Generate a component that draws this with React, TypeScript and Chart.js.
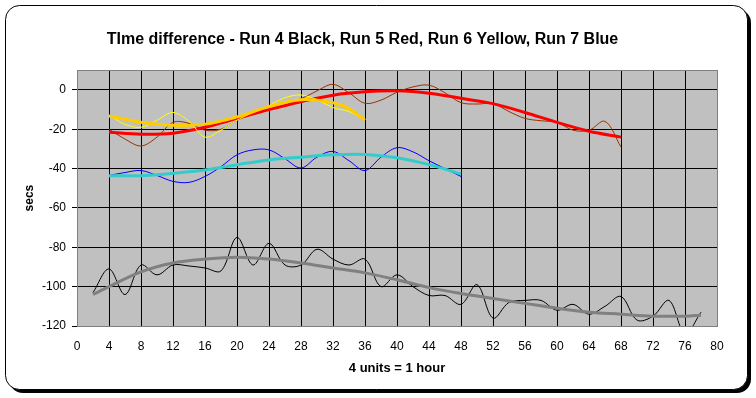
import React, { useEffect, useRef } from "react";
import { Chart, registerables } from "chart.js";

Chart.register(...registerables);

const titleText = "TIme difference - Run 4 Black, Run 5 Red, Run 6 Yellow, Run 7 Blue";
const xAxisTitle = "4 units = 1 hour";
const yAxisTitle = "secs";

// Run 4 (black data, grey trend)
const run4X = [2, 4, 6, 8, 10, 12, 14, 16, 18, 20, 22, 24, 26, 28, 30, 32, 34, 36, 38, 40, 42, 44, 46, 48, 50, 52, 54, 56, 58, 60, 62, 64, 66, 68, 70, 72, 74, 76, 78];
const run4Y = [-103, -91, -104, -89, -94, -89, -89.5, -90.5, -92, -75, -89, -78, -89, -89, -81, -86, -89, -86, -100, -94, -100, -104.5, -104.5, -109, -99, -116, -108, -107, -107, -112, -109, -114, -110, -105, -117, -115, -107, -124, -113];
const run4TrendX = [2, 4, 8, 12, 16, 20, 24, 28, 32, 36, 40, 44, 48, 52, 56, 60, 64, 68, 72, 76, 78];
const run4TrendY = [-104, -100, -92.5, -88, -86, -85, -86, -88, -90.5, -93, -96.5, -100.5, -103.5, -106, -108.5, -111, -113, -114, -115, -115, -114.5];

// Run 5 (brown data, red trend)
const run5X = [4, 6, 8, 10, 12, 14, 16, 18, 20, 22, 24, 26, 28, 30, 32, 34, 36, 38, 40, 42, 44, 46, 48, 50, 52, 54, 56, 58, 60, 62, 64, 66, 68];
const run5Y = [-20, -25, -28.5, -24, -16.5, -17, -20.5, -20, -15.5, -12, -8.5, -6.5, -4.5, -0.5, 2.8, -1.5, -6.8, -5.2, -1.2, 1.5, 2.4, -1.5, -6.5, -7.2, -7, -11, -14.5, -15.7, -16.5, -20.5, -20.5, -16, -29];
const run5TrendX = [4, 8, 12, 16, 20, 24, 28, 32, 36, 40, 44, 48, 52, 56, 60, 64, 68];
const run5TrendY = [-21.5, -22.5, -22, -19, -14.5, -10, -6, -2.7, -1, -0.5, -1.7, -4.3, -7, -11.5, -16.5, -21, -24];

// Run 6 (yellow data, gold trend)
const run6X = [4, 6, 8, 10, 12, 14, 16, 18, 20, 22, 24, 26, 28, 30, 32, 34, 36];
const run6Y = [-12.8, -17.5, -19, -15.4, -11.5, -16, -24, -20.5, -15.4, -11.5, -8, -4, -2.6, -5, -9, -11, -15.4];
const run6TrendX = [4, 8, 12, 16, 20, 24, 28, 32, 34, 36];
const run6TrendY = [-13.3, -16.5, -18, -17.4, -13.7, -8.5, -5, -6.5, -9.5, -15.4];

// Run 7 (blue data, turquoise trend)
const run7X = [4, 6, 8, 10, 12, 14, 16, 18, 20, 22, 24, 26, 28, 30, 32, 34, 36, 38, 40, 42, 44, 46, 48];
const run7Y = [-43.5, -42, -41, -43.5, -46.5, -47, -44, -39, -33, -30.5, -30.5, -35, -39.7, -34.2, -31.3, -36, -41, -34.2, -29.4, -31.5, -36, -40, -44];
const run7TrendX = [4, 8, 12, 16, 20, 24, 28, 32, 36, 40, 44, 48];
const run7TrendY = [-43.6, -43.6, -42.4, -40.7, -38, -35.6, -34.2, -33, -32.8, -34.5, -38, -42.7];

const xMin = 0;
const xMax = 80;
const xStep = 4;
const yMin = -120;
const yMax = 10;
const yStep = 20;

const FONT = "'Liberation Sans', Arial, sans-serif";

function pts(xs: number[], ys: number[]) {
  return xs.map((x, i) => ({ x, y: ys[i] }));
}

const framePlugin = {
  id: "frame",
  beforeDraw(chart: any) {
    const ctx = chart.ctx as CanvasRenderingContext2D;
    ctx.save();
    ctx.fillStyle = "#000000";
    ctx.beginPath();
    (ctx as any).roundRect(9, 9, 742, 384, 14);
    ctx.fill();
    ctx.fillStyle = "#ffffff";
    ctx.beginPath();
    (ctx as any).roundRect(5.5, 5.5, 742, 384, 14);
    ctx.fill();
    ctx.strokeStyle = "#000000";
    ctx.lineWidth = 1;
    ctx.stroke();
    const { left, top, right, bottom } = chart.chartArea;
    ctx.fillStyle = "#C0C0C0";
    ctx.fillRect(left, top, right - left, bottom - top);
    ctx.restore();
  },
  beforeDatasetsDraw(chart: any) {
    const ctx = chart.ctx as CanvasRenderingContext2D;
    const { left, top, right, bottom } = chart.chartArea;
    ctx.save();
    ctx.strokeStyle = "#808080";
    ctx.lineWidth = 1;
    ctx.strokeRect(Math.round(left) + 0.5, Math.round(top) + 0.5, Math.round(right - left), Math.round(bottom - top));
    ctx.restore();
  },
};

export default function App() {
  const ref = useRef<HTMLCanvasElement | null>(null);

  useEffect(() => {
    document.body.style.margin = "0";
    document.body.style.overflow = "hidden";
    const canvas = ref.current;
    if (!canvas) return;
    const line = (label: string, color: string, xs: number[], ys: number[], width: number, order: number) => ({
      label,
      data: pts(xs, ys),
      borderColor: color,
      backgroundColor: color,
      borderWidth: width,
      pointRadius: 0,
      tension: 0.35,
      fill: false,
      order,
    });
    const chart = new Chart(canvas, {
      type: "line",
      data: {
        datasets: [
          line("Run 4", "#000000", run4X, run4Y, 1, 8),
          line("Run 4 trend", "#808080", run4TrendX, run4TrendY, 3, 7),
          line("Run 5", "#993300", run5X, run5Y, 1, 6),
          line("Run 5 trend", "#FF0000", run5TrendX, run5TrendY, 3, 5),
          line("Run 6", "#FFFF00", run6X, run6Y, 1, 4),
          line("Run 6 trend", "#FFCC00", run6TrendX, run6TrendY, 3, 3),
          line("Run 7", "#0000FF", run7X, run7Y, 1, 2),
          line("Run 7 trend", "#33CCCC", run7TrendX, run7TrendY, 3, 1),
        ] as any,
      },
      options: {
        animation: false,
        responsive: false,
        events: [],
        layout: { padding: { left: 8, right: 39, top: 8, bottom: 10 } },
        plugins: {
          legend: { display: false },
          tooltip: { enabled: false },
          title: {
            display: true,
            text: titleText,
            color: "#000000",
            font: { family: FONT, size: 16, weight: "bold" },
            padding: { top: 22, bottom: 21 },
          },
        },
        scales: {
          x: {
            type: "linear",
            min: xMin,
            max: xMax,
            afterFit: (s: any) => {
              s.height = 62;
            },
            ticks: {
              stepSize: xStep,
              color: "#000000",
              font: { family: FONT, size: 12 },
              padding: 13,
              maxRotation: 0,
              autoSkip: false,
            },
            grid: { color: "#000000", lineWidth: 1, drawTicks: false },
            border: { display: false },
            title: {
              display: true,
              text: xAxisTitle,
              color: "#000000",
              font: { family: FONT, size: 13, weight: "bold" },
              padding: { top: 0, bottom: 12 },
            },
          },
          y: {
            type: "linear",
            min: yMin,
            max: yMax,
            afterFit: (s: any) => {
              s.width = 69;
            },
            ticks: {
              stepSize: yStep,
              includeBounds: false,
              color: "#000000",
              font: { family: FONT, size: 12 },
              padding: 6,
            },
            grid: { color: "#000000", lineWidth: 1, drawTicks: true, tickLength: 5 },
            border: { display: false },
            title: {
              display: true,
              text: yAxisTitle,
              color: "#000000",
              font: { family: FONT, size: 12, weight: "bold" },
              padding: { top: 14, bottom: 0 },
            },
          },
        },
      } as any,
      plugins: [framePlugin],
    });
    return () => chart.destroy();
  }, []);

  return (
    <div style={{ width: 756, height: 398 }}>
      <canvas ref={ref} width={756} height={398} style={{ display: "block" }} />
    </div>
  );
}
